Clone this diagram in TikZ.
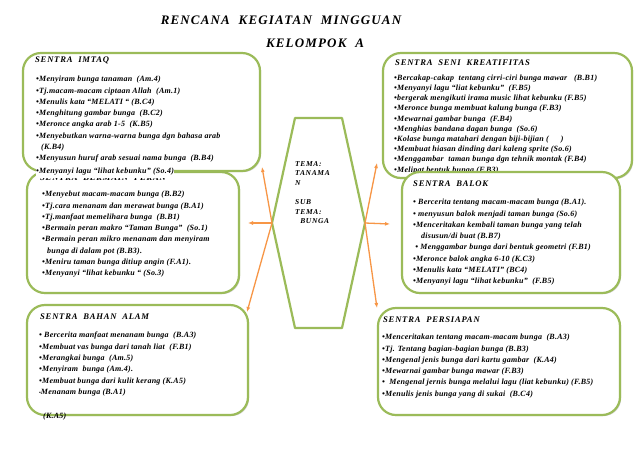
\documentclass[tikz,border=0pt]{standalone}
\usepackage{fontspec}
\setmainfont{Liberation Serif}
\newfontfamily\isifont[LetterSpace=3]{Liberation Serif}
\newfontfamily\judulfont[LetterSpace=9]{Liberation Serif}
\usepackage{xcolor}
\usetikzlibrary{arrows.meta, shadows}
\definecolor{sentragreen}{HTML}{9BBB59}
\definecolor{pointerorange}{HTML}{F79646}

\begin{document}
\begin{tikzpicture}[x=1pt, y=-1pt, every node/.style={inner sep=0pt, font=\isifont\bfseries\itshape\fontsize{8}{11.3}\selectfont}]
  \tikzset{sentra/.style={rectangle, draw=sentragreen, line width=2.2pt, rounded corners=18pt, fill=white,
      drop shadow={shadow xshift=1.2pt, shadow yshift=-1.2pt, opacity=0.35}}}
  \tikzset{items/.style={anchor=north west, align=left}}
  \tikzset{heading/.style={anchor=west, font=\judulfont\bfseries\itshape\fontsize{8.6}{9}\selectfont}}
  \tikzset{pointer/.style={draw=pointerorange, line width=1.3pt, -{Latex[length=5pt, width=4pt]}}}
  \useasboundingbox[fill=white] (0,0) rectangle (638,451);

  % judul
  \node[font=\judulfont\bfseries\itshape\fontsize{13}{14}\selectfont] (judul) at (281,20) {RENCANA\ \ KEGIATAN\ \ MINGGUAN};
  \node[font=\judulfont\bfseries\itshape\fontsize{13}{14}\selectfont] (kelompok) at (315,43) {KELOMPOK\ \ A};

  % kiri
  \node[sentra, minimum width=212pt, minimum height=121pt] (peran) at (133,232.5) {};
  \node[items] (peranisi) at (42,191) {\textbullet Menyebut macam-macam bunga (B.B2)\\
    \textbullet Tj.cara menanam dan merawat bunga (B.A1)\\
    \textbullet Tj.manfaat memelihara bunga\ \ (B.B1)\\
    \textbullet Bermain peran makro “Taman Bunga”\ \ (So.1)\\
    \textbullet Bermain peran mikro menanam dan menyiram\\
    \hspace*{5pt}bunga di dalam pot (B.B3).\\
    \textbullet Meniru taman bunga ditiup angin (F.A1).\\
    \textbullet Menyanyi “lihat kebunku “ (So.3)};

  \node[sentra, minimum width=237pt, minimum height=118pt] (imtaq) at (141.5,112) {};
  \node[heading] (imtaqjudul) at (35,60) {SENTRA\ \ IMTAQ};
  \node[items] (imtaqisi) at (36,76) {\textbullet Menyiram bunga tanaman\ \ (Am.4)\\
    \textbullet Tj.macam-macam ciptaan Allah\ \ (Am.1)\\
    \textbullet Menulis kata “MELATI “ (B.C4)\\
    \textbullet Menghitung gambar bunga\ \ (B.C2)\\
    \textbullet Meronce angka arab 1-5\ \ (K.B5)\\
    \textbullet Menyebutkan warna-warna bunga dgn bahasa arab\\
    \hspace*{5pt}(K.B4)\\
    \textbullet Menyusun huruf arab sesuai nama bunga\ \ (B.B4)};
  \node[heading] (peranjudul) at (40,177.5) {SENTRA\ \ BERMAIN\ \ PERAN};
  \node[anchor=north west, fill=white, inner ysep=0.5pt, text depth=3.5pt] (imtaqlagu) at (36,167.5) {\textbullet Menyanyi lagu “lihat kebunku” (So.4)};

  \node[sentra, minimum width=221pt, minimum height=110pt] (alam) at (137.5,360) {};
  \node[heading] (alamjudul) at (40,317) {SENTRA\ \ BAHAN\ \ ALAM};
  \node[items] (alamisi) at (39,332) {\textbullet\ Bercerita manfaat menanam bunga\ \ (B.A3)\\
    \textbullet Membuat vas bunga dari tanah liat\ \ (F.B1)\\
    \textbullet Merangkai bunga\ \ (Am.5)\\
    \textbullet Menyiram\ \ bunga (Am.4).\\
    \textbullet Membuat bunga dari kulit kerang (K.A5)\\
    {\fontsize{5}{5}\selectfont\textbullet}Menanam bunga (B.A1)};
  \node[anchor=west] (alamsisa) at (43,417) {(K.A5)};

  % kanan
  \node[sentra, minimum width=249pt, minimum height=125pt] (seni) at (507.5,115.5) {};
  \node[heading] (senijudul) at (395,63) {SENTRA\ \ SENI\ \ KREATIFITAS};
  \node[items, font=\isifont\bfseries\itshape\fontsize{8}{10.2}\selectfont] (seniisi) at (394,74.5) {\textbullet Bercakap-cakap\ \ tentang cirri-ciri bunga mawar\ \ \ (B.B1)\\
    \textbullet Menyanyi lagu “liat kebunku”\ \ (F.B5)\\
    \textbullet bergerak mengikuti irama music lihat kebunku (F.B5)\\
    \textbullet Meronce bunga membuat kalung bunga (F.B3)\\
    \textbullet Mewarnai gambar bunga\ \ (F.B4)\\
    \textbullet Menghias bandana dagan bunga\ \ (So.6)\\
    \textbullet Kolase bunga matahari dengan biji-bijian (\hspace{12pt})\\
    \textbullet Membuat hiasan dinding dari kaleng sprite (So.6)\\
    \textbullet Menggambar\ \ taman bunga dgn tehnik montak (F.B4)\\
    \textbullet Melipat bentuk bunga (F.B3)};

  \node[sentra, minimum width=218pt, minimum height=121pt] (balok) at (511,232.5) {};
  \node[heading] (balokjudul) at (413,184) {SENTRA\ \ BALOK};
  \node[items] (balokisi) at (413,199) {\textbullet\ Bercerita tentang macam-macam bunga (B.A1).\\
    \textbullet\ menyusun balok menjadi taman bunga (So.6)\\
    \textbullet Menceritakan kembali taman bunga yang telah\\
    \hspace*{8pt}disusun/di buat (B.B7)\\
    \ \textbullet\ Menggambar bunga dari bentuk geometri (F.B1)\\
    \textbullet Meronce balok angka 6-10 (K.C3)\\
    \textbullet Menulis kata “MELATI” (BC4)\\
    \textbullet Menyanyi lagu “lihat kebunku”\ \ (F.B5)};

  \node[sentra, minimum width=242pt, minimum height=107pt] (persiapan) at (499,361.5) {};
  \node[heading] (persiapanjudul) at (383,320) {SENTRA\ \ PERSIAPAN};
  \node[items] (persiapanisi) at (382,334) {\textbullet Menceritakan tentang macam-macam bunga\ \ (B.A3)\\
    \textbullet Tj. Tentang bagian-bagian bunga (B.B3)\\
    \textbullet Mengenal jenis bunga dari kartu gambar\ \ (K.A4)\\
    \textbullet Mewarnai gambar bunga mawar (F.B3)\\
    \textbullet\ \ Mengenal jernis bunga melalui lagu (liat kebunku) (F.B5)\\
    \textbullet Menulis jenis bunga yang di sukai\ \ (B.C4)};

  % tema
  \coordinate (hl) at (272,223);
  \coordinate (hr) at (365,223);
  \draw[sentragreen, line width=2.2pt, line join=round] (295,118) -- (342,118) -- (hr) -- (342,328) -- (295,328) -- (hl) -- cycle;
  \node[anchor=north west, align=left, font=\judulfont\bfseries\itshape\fontsize{7.5}{9.6}\selectfont] (tema) at (295,161) {TEMA:\\ TANAMA\\ N\\ \\ SUB\\ TEMA:\\ \ \ BUNGA};

  \coordinate (keimtaq) at (262,167);
  \coordinate (keperan) at (248,223);
  \coordinate (kealam) at (247,312);
  \coordinate (keseni) at (377,163);
  \coordinate (kebalok) at (390,224);
  \coordinate (kepersiapan) at (377,308);
  \draw[pointer] (hl) -- (keimtaq);
  \draw[pointer] (hl) -- (keperan);
  \draw[pointer] (hl) -- (kealam);
  \draw[pointer] (hr) -- (keseni);
  \draw[pointer] (hr) -- (kebalok);
  \draw[pointer] (hr) -- (kepersiapan);
\end{tikzpicture}
\end{document}
